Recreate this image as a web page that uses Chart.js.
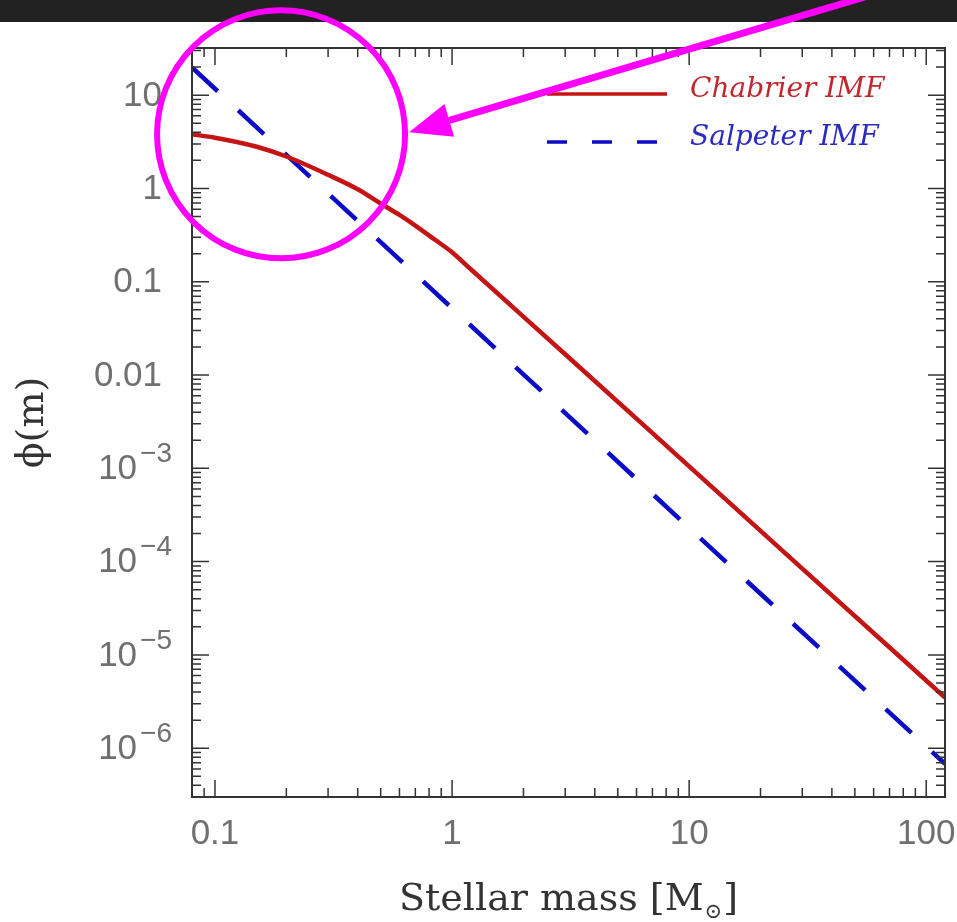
<!DOCTYPE html>
<html>
<head>
<meta charset="utf-8">
<script src="https://cdn.jsdelivr.net/npm/chart.js@4.4.1/dist/chart.umd.min.js"></script>
<style>
  html, body { margin: 0; padding: 0; background: #fff; }
  #wrap { width: 957px; height: 922px; }
</style>
</head>
<body>
<div id="wrap"><canvas id="imfChart" width="957" height="922"></canvas></div>
<script>
// Chabrier IMF: lognormal part below 1 Msun, power-law tail above
const chabrierMass = [0.08, 0.1, 0.15, 0.2, 0.3, 0.4, 0.5, 0.6, 0.7, 0.85, 1.0, 1.2, 3, 10, 30, 120];
const chabrierPhi  = [3.8, 3.5, 2.8, 2.2, 1.4, 0.98, 0.69, 0.52, 0.40, 0.28, 0.207, 0.136, 0.0167, 1.05e-3, 8.4e-5, 3.5e-6];

// Salpeter IMF: single power law
const salpeterMass = [0.08, 1, 10, 120];
const salpeterPhi  = [19.8, 0.052, 2.3e-4, 6.8e-7];

const xTickValues = [0.1, 1, 10, 100];
const xTickLabels = ["0.1", "1", "10", "100"];
const yTickValues = [10, 1, 0.1, 0.01, 1e-3, 1e-4, 1e-5, 1e-6];
const yTickBase   = ["10", "1", "0.1", "0.01", "10", "10", "10", "10"];
const yTickExp    = ["", "", "", "", "−3", "−4", "−5", "−6"];

const toPoints = (xs, ys) => xs.map((x, i) => ({ x: x, y: ys[i] }));

function labelFor(v, values, labels) {
    const i = values.findIndex(t => Math.abs(t - v) / t < 1e-6);
    return i >= 0 ? labels[i] : "";
}

function isDecade(v) {
    const l = Math.log10(v);
    return Math.abs(l - Math.round(l)) < 1e-6;
}

// 1..9 x 10^n ticks only (no 1.5 steps)
function logTicks(scale) {
    const ticks = [];
    for (let e = Math.floor(Math.log10(scale.min)); e <= Math.ceil(Math.log10(scale.max)); e++) {
        for (let s = 1; s <= 9; s++) {
            const v = s * Math.pow(10, e);
            if (v >= scale.min * 0.9999 && v <= scale.max * 1.0001) ticks.push({ value: v, major: s === 1 });
        }
    }
    scale.ticks = ticks;
}

const sans = '"Liberation Sans", "DejaVu Sans", sans-serif';
const serif = '"DejaVu Serif", serif';
const tickColor = "#707070";

const pageBackdrop = {
    id: "pageBackdrop",
    beforeDraw(chart) {
        const ctx = chart.ctx;
        ctx.save();
        ctx.fillStyle = "#fff";
        ctx.fillRect(0, 0, chart.width, chart.height);
        ctx.fillStyle = "#222";
        ctx.fillRect(0, 0, chart.width, 22);
        ctx.restore();
    }
};

// box round the plot with inward ticks on all four sides
const frameTicks = {
    id: "frameTicks",
    afterDatasetsDraw(chart) {
        const { ctx, chartArea: a, scales: { x, y } } = chart;
        ctx.save();
        ctx.strokeStyle = "#333";
        ctx.lineWidth = 1.5;
        ctx.beginPath();
        x.ticks.forEach(t => {
            const px = x.getPixelForValue(t.value);
            const len = isDecade(t.value) ? 17 : 9;
            ctx.moveTo(px, a.bottom); ctx.lineTo(px, a.bottom - len);
            ctx.moveTo(px, a.top); ctx.lineTo(px, a.top + len);
        });
        y.ticks.forEach(t => {
            const py = y.getPixelForValue(t.value);
            const len = isDecade(t.value) ? 17 : 9;
            ctx.moveTo(a.left, py); ctx.lineTo(a.left + len, py);
            ctx.moveTo(a.right, py); ctx.lineTo(a.right - len, py);
        });
        ctx.stroke();
        ctx.lineWidth = 2;
        ctx.strokeRect(a.left, a.top, a.right - a.left, a.bottom - a.top);
        ctx.restore();
    }
};

// y tick labels, powers below 0.01 written as 10 with a raised exponent
const yLabels = {
    id: "yLabels",
    afterDraw(chart) {
        const { ctx, chartArea: a, scales: { y } } = chart;
        ctx.save();
        ctx.fillStyle = tickColor;
        ctx.textBaseline = "middle";
        ctx.textAlign = "right";
        yTickValues.forEach((v, i) => {
            const py = y.getPixelForValue(v);
            const exp = yTickExp[i];
            if (!exp) {
                ctx.font = "35px " + sans;
                ctx.fillText(yTickBase[i], a.left - 30, py + 1);
                return;
            }
            ctx.font = "28px " + sans;
            ctx.fillText(exp, a.left - 20, py - 14);
            const ew = ctx.measureText(exp).width;
            ctx.font = "35px " + sans;
            ctx.fillText(yTickBase[i], a.left - 23 - ew, py + 1);
        });
        ctx.restore();
    }
};

// legend inside the top-right corner: line sample then italic label
const insetLegend = {
    id: "insetLegend",
    afterDatasetsDraw(chart) {
        const ctx = chart.ctx;
        const rows = [{ y: 94, text: "#c0282d" }, { y: 142, text: "#2b2bc0" }];
        ctx.save();
        chart.data.datasets.forEach((ds, i) => {
            const r = rows[i];
            ctx.strokeStyle = ds.borderColor;
            ctx.lineWidth = 3.5;
            ctx.setLineDash(ds.borderDash ? [20, 25] : []);
            ctx.beginPath();
            ctx.moveTo(547, r.y);
            ctx.lineTo(667, r.y);
            ctx.stroke();
            ctx.setLineDash([]);
            ctx.font = "italic 28px " + serif;
            ctx.fillStyle = r.text;
            ctx.textBaseline = "alphabetic";
            ctx.fillText(ds.label, 690, r.y + 3);
        });
        ctx.restore();
    }
};

// x-axis title with a subscript sun symbol
const massTitle = {
    id: "massTitle",
    afterDraw(chart) {
        const { ctx, chartArea: a } = chart;
        const head = "Stellar mass [M", sun = "⊙", tail = "]";
        const big = "38px " + serif, small = "21px " + serif;
        ctx.save();
        ctx.fillStyle = "#333";
        ctx.textBaseline = "alphabetic";
        ctx.font = big;
        const w1 = ctx.measureText(head).width;
        const w3 = ctx.measureText(tail).width;
        ctx.font = small;
        const w2 = ctx.measureText(sun).width;
        const x0 = (a.left + a.right) / 2 - (w1 + w2 + w3 + 2) / 2;
        const base = a.bottom + 113;
        ctx.font = big;
        ctx.fillText(head, x0, base);
        ctx.font = small;
        ctx.fillText(sun, x0 + w1 + 1, base + 8);
        ctx.font = big;
        ctx.fillText(tail, x0 + w1 + w2 + 2, base);
        ctx.restore();
    }
};

// magenta ring round the low-mass crossing, with a pointer from the top edge
const lowMassCallout = {
    id: "lowMassCallout",
    afterDraw(chart) {
        const { ctx, scales: { x, y } } = chart;
        const cx = x.getPixelForValue(0.19), cy = y.getPixelForValue(3.8);
        const r = 124;
        ctx.save();
        ctx.strokeStyle = "#ff00ff";
        ctx.fillStyle = "#ff00ff";
        ctx.lineWidth = 6;
        ctx.beginPath();
        ctx.arc(cx, cy, r, 0, Math.PI * 2);
        ctx.stroke();

        const tipX = cx + r + 4, tipY = cy - 2;
        const tailX = 868, tailY = -4;
        const ang = Math.atan2(tailY - tipY, tailX - tipX);
        const headLen = 42, headHalf = 17;
        const bx = tipX + headLen * Math.cos(ang), by = tipY + headLen * Math.sin(ang);
        ctx.lineWidth = 7;
        ctx.beginPath();
        ctx.moveTo(bx, by);
        ctx.lineTo(tailX, tailY);
        ctx.stroke();
        ctx.beginPath();
        ctx.moveTo(tipX, tipY);
        ctx.lineTo(bx - headHalf * Math.sin(ang), by + headHalf * Math.cos(ang));
        ctx.lineTo(bx + headHalf * Math.sin(ang), by - headHalf * Math.cos(ang));
        ctx.closePath();
        ctx.fill();
        ctx.restore();
    }
};

new Chart(document.getElementById("imfChart"), {
    type: "line",
    data: {
        datasets: [{
            label: "Chabrier IMF",
            data: toPoints(chabrierMass, chabrierPhi),
            borderColor: "#c41414",
            borderWidth: 4.5,
            pointRadius: 0,
            cubicInterpolationMode: "monotone",
            fill: false
        }, {
            label: "Salpeter IMF",
            data: toPoints(salpeterMass, salpeterPhi),
            borderColor: "#0c0cc8",
            borderWidth: 4.5,
            borderDash: [35, 28],
            pointRadius: 0,
            fill: false
        }]
    },
    options: {
        responsive: false,
        animation: false,
        devicePixelRatio: 1,
        layout: { padding: { top: 48, right: 12, left: 0, bottom: 0 } },
        plugins: {
            legend: { display: false },
            tooltip: { enabled: false }
        },
        scales: {
            x: {
                type: "logarithmic",
                min: 0.08,
                max: 120,
                afterBuildTicks: logTicks,
                afterFit: s => { s.height = 125; s.paddingLeft = 0; s.paddingRight = 0; },
                grid: { display: false, drawTicks: false },
                border: { display: false },
                ticks: {
                    autoSkip: false,
                    maxRotation: 0,
                    padding: 16,
                    color: tickColor,
                    font: { family: sans, size: 35 },
                    callback: v => labelFor(v, xTickValues, xTickLabels)
                }
            },
            y: {
                type: "logarithmic",
                min: 3e-7,
                max: 32,
                afterBuildTicks: logTicks,
                afterFit: s => { s.width = 192; s.paddingTop = 0; s.paddingBottom = 0; },
                grid: { display: false, drawTicks: false },
                border: { display: false },
                ticks: { display: false },
                title: {
                    display: true,
                    text: "ϕ(m)",
                    color: "#333",
                    font: { family: serif, size: 38 },
                    padding: { top: 10, bottom: 0 }
                }
            }
        }
    },
    plugins: [pageBackdrop, frameTicks, yLabels, insetLegend, massTitle, lowMassCallout]
});
</script>
</body>
</html>
